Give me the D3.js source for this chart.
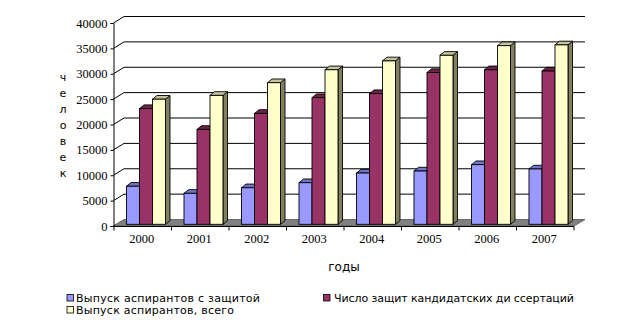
<!DOCTYPE html>
<html><head><meta charset="utf-8">
<script src="https://cdn.jsdelivr.net/npm/d3@7"></script>
<style>
html,body{margin:0;padding:0;background:#fff;}
svg{display:block;}
</style></head>
<body>
<svg id="chart" width="636" height="324"></svg>
<script>
const years = ["2000","2001","2002","2003","2004","2005","2006","2007"];
const seriesNames = ["Выпуск аспирантов с защитой","Число защит кандидатских ди ссертаций","Выпуск аспирантов, всего"];
const withDefense = [7500, 6100, 7200, 8200, 10100, 10500, 11750, 10900];
const candidateTheses = [22800, 18700, 21850, 24950, 25750, 29900, 30450, 30200];
const totalGraduates = [24650, 25400, 27900, 30450, 32200, 33300, 35200, 35350];
const yTicks = [0,5000,10000,15000,20000,25000,30000,35000,40000];
const yLabelLetters = ["ч","е","л","о","в","е","к"];
const xTitle = "годы";

const series = [withDefense, candidateTheses, totalGraduates];
const frontCol = ["#9999FF","#993366","#FFFFCC"];
const topCol = ["#7373C8","#6E2449","#C4C49C"];
const sideCol = ["#5C5CA0","#5A1D3C","#80805F"];
const SERIF = "'Liberation Serif','Times New Roman',serif";
const CYR = "'DejaVu Sans','Liberation Sans',sans-serif";

const svg = d3.select("#chart");
const y = d3.scaleLinear().domain([0,40000]).range([226,23]);
const x = d3.scaleBand().domain(years).range([114,574]);
const DX = 11, DY = -6.5;      // wall depth
const bdx = 4.5, bdy = -3.7;   // bar depth
const bsy = -1.7;              // bar plane shift

// floor
svg.append("polygon")
  .attr("points", [[113,226],[113+DX,226+DY],[574+DX,226+DY],[574,226]].map(p=>p.join(",")).join(" "))
  .attr("fill","#808080").attr("stroke","#555").attr("stroke-width",0.8);

// back wall gridlines + left wall diagonals
yTicks.forEach(t=>{
  if(t>0){
    svg.append("line").attr("x1",113+DX).attr("x2",574+DX)
      .attr("y1",y(t)+DY).attr("y2",y(t)+DY).attr("stroke","#000").attr("stroke-width",1);
    svg.append("line").attr("x1",113.5).attr("y1",y(t)).attr("x2",113+DX).attr("y2",y(t)+DY)
      .attr("stroke","#000").attr("stroke-width",1);
  }
});

// y axis
const yAxis = svg.append("g").attr("transform","translate(113.5,0)")
  .call(d3.axisLeft(y).tickValues(yTicks).tickSize(3).tickPadding(3).tickFormat(d3.format("d")));
yAxis.select(".domain").attr("stroke","#000");
yAxis.selectAll("line").attr("stroke","#000");
yAxis.selectAll("text").attr("font-family",SERIF)
  .attr("font-size","12.5px").attr("fill","#000");

// bars
years.forEach((yr,ci)=>{
  series.forEach((vals,si)=>{
    const v = vals[ci];
    const x0 = x(yr) + 12.5 + si*13;
    const w = 13;
    const yb = y(0) + bsy, yt = y(v) + bsy;
    const g = svg.append("g");
    g.append("polygon").attr("points",[[x0+w,yb],[x0+w+bdx,yb+bdy],[x0+w+bdx,yt+bdy],[x0+w,yt]].map(p=>p.join(",")).join(" "))
      .attr("fill",sideCol[si]).attr("stroke","#000").attr("stroke-width",0.9).attr("stroke-linejoin","round");
    g.append("polygon").attr("points",[[x0,yt],[x0+bdx,yt+bdy],[x0+w+bdx,yt+bdy],[x0+w,yt]].map(p=>p.join(",")).join(" "))
      .attr("fill",topCol[si]).attr("stroke","#000").attr("stroke-width",0.9).attr("stroke-linejoin","round");
    g.append("rect").attr("x",x0).attr("y",yt).attr("width",w).attr("height",yb-yt)
      .attr("fill",frontCol[si]).attr("stroke","#000").attr("stroke-width",0.9);
  });
});

// x axis
const xAxis = svg.append("g").attr("transform","translate(0,226.5)")
  .call(d3.axisBottom(x).tickSize(0).tickPadding(8));
xAxis.select(".domain").attr("stroke","#000").attr("d","M113,0H574");
xAxis.selectAll("text").attr("font-family",SERIF)
  .attr("font-size","12.5px").attr("fill","#000").attr("dx","-1");
years.concat(["end"]).forEach((yr,i)=>{
  const xx = i<years.length ? x(yr) : x.range()[1];
  svg.append("line").attr("x1",xx).attr("x2",xx).attr("y1",226.5).attr("y2",230.5).attr("stroke","#000");
});

// axis titles
svg.append("text").attr("x",344).attr("y",270.5).attr("text-anchor","middle")
  .attr("font-family",CYR).attr("font-size","12px").text(xTitle);
yLabelLetters.forEach((ch,i)=>{
  svg.append("text").attr("x",63).attr("y",80.5+i*16.1).attr("text-anchor","middle")
    .attr("font-family",CYR).attr("font-size","11px").text(ch);
});

// legend
const legendItems = [
  {x:67, y:294.5, tx:76, tl:184},
  {x:323.5, y:294.5, tx:334, tl:240},
  {x:67, y:306.5, tx:76, tl:158}
];
legendItems.forEach((li,i)=>{
  svg.append("rect").attr("x",li.x).attr("y",li.y).attr("width",6.5).attr("height",6.5)
    .attr("fill",frontCol[i]).attr("stroke","#000").attr("stroke-width",0.8);
  svg.append("text").attr("x",li.tx).attr("y",li.y+7.5)
    .attr("font-family",CYR).attr("font-size","11px")
    .attr("textLength",li.tl).attr("lengthAdjust","spacing").text(seriesNames[i]);
});
</script>
</body></html>
